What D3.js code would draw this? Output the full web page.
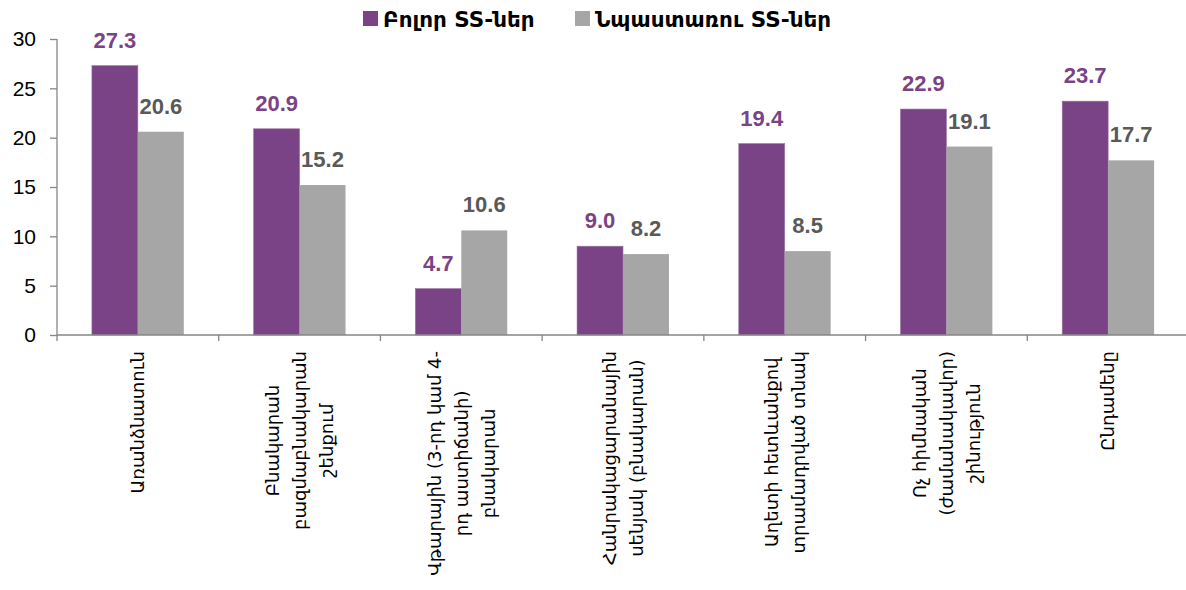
<!DOCTYPE html>
<html>
<head>
<meta charset="utf-8">
<script src="https://cdn.jsdelivr.net/npm/d3@7"></script>
<style>
  body { margin: 0; background: #fff; }
  svg { display: block; }
</style>
</head>
<body>
<svg width="1186" height="590"></svg>
<script>
// data
const categories = [
    ["Առանձնատուն"],
    ["Բնակարան", "բազմաբնակարան", "շենքում"],
    ["Վթարային (3-րդ կամ 4-", "րդ աստիճանի)", "բնակարան"],
    ["Հանրակացարանային", "սենյակ (բնակարան)"],
    ["Աղետի հետևանքով", "տրամադրված տնակ"],
    ["Ոչ հիմնական", "(ժամանակավոր)", "շինություն"],
    ["Ընդամենը"]
];
const allSS = [27.3, 20.9, 4.7, 9.0, 19.4, 22.9, 23.7];
const beneficiarySS = [20.6, 15.2, 10.6, 8.2, 8.5, 19.1, 17.7];
const seriesNames = ["Բոլոր SS-ներ", "Նպաստառու SS-ներ"];
const yTicks = [0, 5, 10, 15, 20, 25, 30];

const colors = ["#7a4386", "#a6a6a6"];
const labelColors = ["#7a4386", "#595959"];

const svg = d3.select("svg");
const plotLeft = 57, plotRight = 1189, plotTop = 39, plotBottom = 335;

const x0 = d3.scaleBand()
    .domain(d3.range(categories.length))
    .range([plotLeft, plotRight])
    .padding(0);

const x1 = d3.scaleBand()
    .domain([0, 1])
    .range([0, x0.bandwidth()])
    .paddingInner(0)
    .paddingOuter(0.76);

const y = d3.scaleLinear().domain([0, 30]).range([plotBottom, plotTop]);

const series = [allSS, beneficiarySS];

// bars
const groups = svg.append("g")
    .selectAll("g")
    .data(categories.map((c, i) => i))
    .enter().append("g")
    .attr("transform", i => `translate(${x0(i)},0)`);

groups.selectAll("rect")
    .data(i => series.map((s, k) => ({ k: k, v: s[i] })))
    .enter().append("rect")
    .attr("x", d => x1(d.k))
    .attr("y", d => y(d.v))
    .attr("width", x1.bandwidth())
    .attr("height", d => y(0) - y(d.v))
    .attr("fill", d => colors[d.k])
    .attr("stroke", d => d.k === 0 ? "#9b72a5" : "none")
    .attr("stroke-width", 0.6);

// value labels
groups.selectAll("text")
    .data(i => series.map((s, k) => ({ k: k, v: s[i] })))
    .enter().append("text")
    .attr("x", d => x1(d.k) + x1.bandwidth() / 2)
    .attr("y", d => y(d.v) - 18)
    .attr("text-anchor", "middle")
    .attr("font-family", "Liberation Sans, Arial, sans-serif")
    .attr("font-weight", "bold")
    .attr("font-size", "22px")
    .attr("fill", d => labelColors[d.k])
    .text(d => d.v.toFixed(1));

// y axis
const yAxis = svg.append("g")
    .attr("transform", `translate(${plotLeft},0)`)
    .call(d3.axisLeft(y).tickValues(yTicks).tickSize(7).tickPadding(14));
yAxis.select(".domain").attr("stroke", "#868686").attr("stroke-width", 1.3)
    .attr("d", `M0,${plotTop}V${plotBottom + 6}`);
yAxis.selectAll(".tick line").attr("stroke", "#868686").attr("stroke-width", 1.3);
yAxis.selectAll(".tick text")
    .attr("font-family", "Liberation Sans, Arial, sans-serif")
    .attr("font-size", "21px")
    .attr("fill", "#000");

// x axis line and category separators
const xAxis = svg.append("g");
xAxis.append("line")
    .attr("x1", plotLeft).attr("x2", plotRight)
    .attr("y1", plotBottom).attr("y2", plotBottom)
    .attr("stroke", "#868686").attr("stroke-width", 1.3);
xAxis.selectAll(".sep")
    .data(d3.range(1, categories.length + 1))
    .enter().append("line")
    .attr("x1", i => x0(i - 1) + x0.bandwidth())
    .attr("x2", i => x0(i - 1) + x0.bandwidth())
    .attr("y1", plotBottom).attr("y2", plotBottom + 6)
    .attr("stroke", "#868686").attr("stroke-width", 1.3);

// category labels (rotated)
const lineGap = 27;
const catLabels = svg.append("g")
    .selectAll("g")
    .data(categories)
    .enter().append("g")
    .attr("transform", (d, i) => `translate(${x0(i) + x0.bandwidth() / 2},351) rotate(-90)`);

catLabels.each(function(lines) {
    const g = d3.select(this);
    const texts = g.selectAll("text")
        .data(lines)
        .enter().append("text")
        .attr("font-family", "DejaVu Sans, sans-serif")
        .attr("font-size", "18px")
        .attr("fill", "#000")
        .attr("dy", "0.35em")
        .attr("y", (l, j) => (j - (lines.length - 1) / 2) * lineGap)
        .attr("text-anchor", "middle")
        .text(l => l);
    let maxW = 0;
    texts.each(function() { maxW = Math.max(maxW, this.getComputedTextLength()); });
    texts.attr("x", -maxW / 2);
});

// legend
const legendX = [363, 575];
const legend = svg.append("g")
    .selectAll("g")
    .data(seriesNames)
    .enter().append("g")
    .attr("transform", (d, i) => `translate(${legendX[i]},11)`);
legend.append("rect")
    .attr("width", 15).attr("height", 15)
    .attr("fill", (d, i) => colors[i]);
legend.append("text")
    .attr("x", 20).attr("y", 8)
    .attr("dy", "0.35em")
    .attr("font-family", "DejaVu Sans, sans-serif")
    .attr("font-weight", "bold")
    .attr("font-size", "21.5px")
    .attr("fill", "#000")
    .text(d => d);
</script>
</body>
</html>
